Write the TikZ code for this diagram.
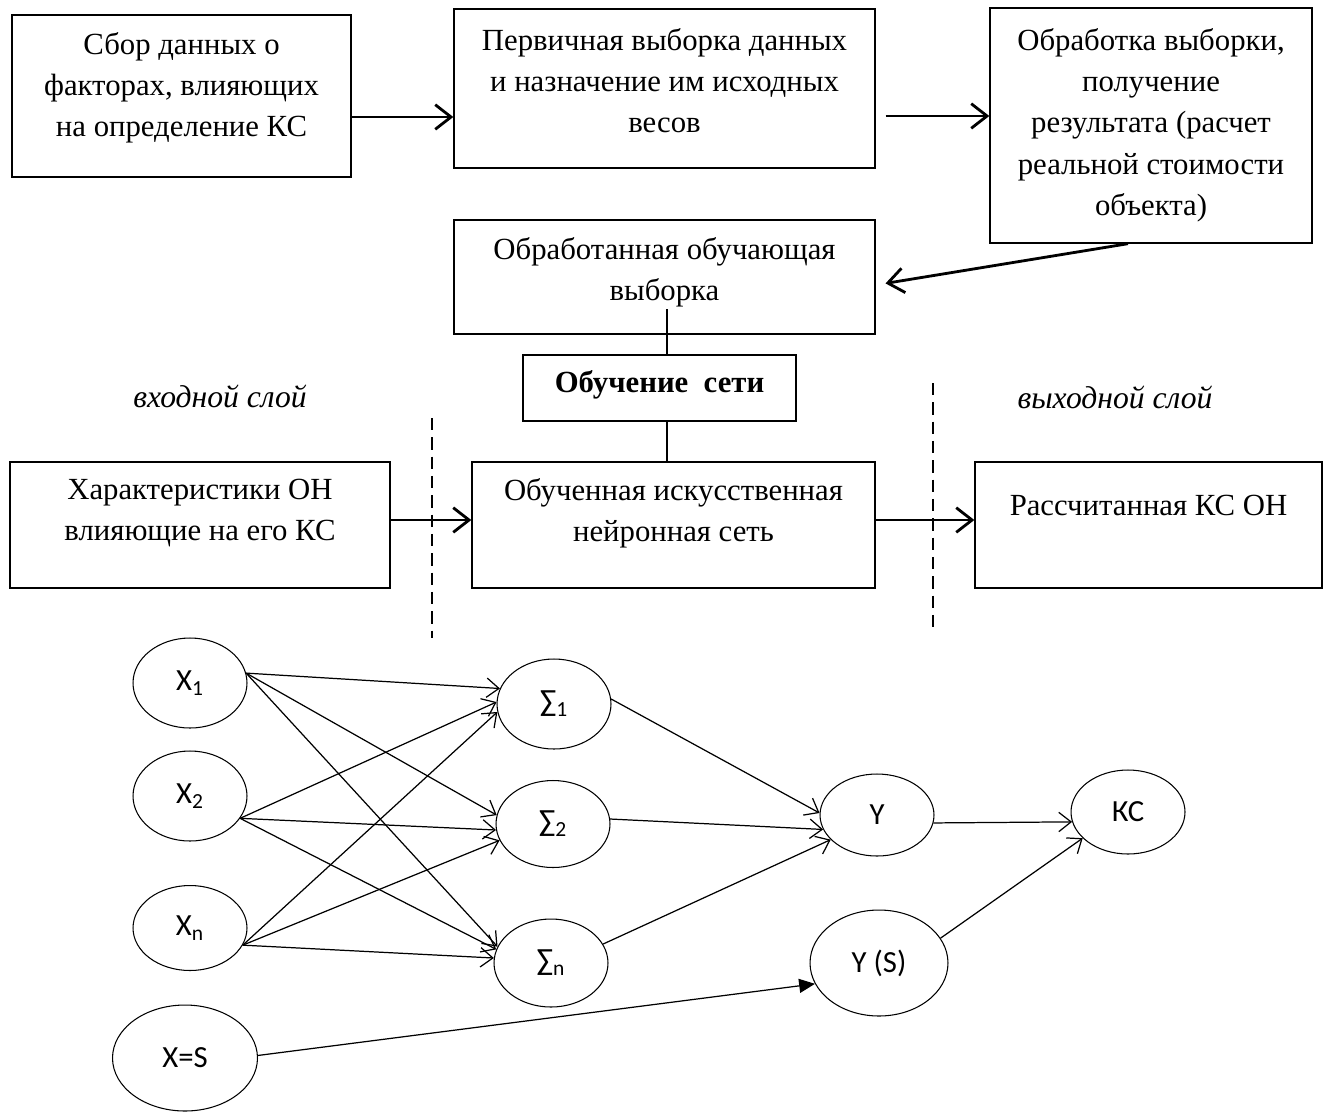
\documentclass[tikz,border=0pt]{standalone}
\usepackage{fontspec}
\setmainfont{Liberation Serif}
\newfontfamily\netfont{Carlito}
\usetikzlibrary{shapes.geometric, arrows.meta}

\tikzstyle{block} = [rectangle, draw=black, line width=0.8pt, align=center, inner sep=0pt, font=\fontsize{17.5}{23.5}\selectfont]
\tikzstyle{neuron} = [ellipse, draw=black, line width=0.6pt, inner sep=0pt, minimum width=2.28cm, minimum height=1.8cm, font=\netfont\fontsize{17.5}{21}\selectfont]
\tikzstyle{arrow} = [line width=1.6pt, -{Straight Barb[length=9pt,width=14pt]}]
\tikzstyle{link} = [line width=1.6pt]
\tikzstyle{synapse} = [line width=0.7pt, -{Straight Barb[length=7pt,width=11pt]}]
\tikzstyle{layer} = [font=\itshape\fontsize{18}{21}\selectfont]
\tikzstyle{border} = [line width=0.6pt, dash pattern=on 7pt off 4pt]

\begin{document}
\begin{tikzpicture}[x=0.02cm, y=-0.02cm]
\useasboundingbox (0,0) rectangle (1331,1113);

% upper part: preparing the sample
\node (collect) [block, minimum width=6.78cm, minimum height=3.24cm, text depth=13pt] at (181.5,96) {Сбор данных о\\факторах, влияющих\\на определение КС};
\node (sample) [block, minimum width=8.42cm, minimum height=3.18cm, text depth=9pt] at (664.5,88.5) {Первичная выборка данных\\и назначение им исходных\\весов};
\node (process) [block, minimum width=6.44cm, minimum height=4.7cm, text depth=4pt] at (1151,125.5) {Обработка выборки,\\получение\\результата (расчет\\реальной стоимости\\объекта)};
\node (trainset) [block, minimum width=8.42cm, minimum height=2.28cm, text depth=9pt] at (664.5,277) {Обработанная обучающая\\выборка};
\node (training) [block, minimum width=5.46cm, minimum height=1.32cm, text depth=7pt, font=\bfseries\fontsize{17.5}{23.5}\selectfont] at (659.5,388) {Обучение\hspace{0.25em} сети};

\draw [arrow] (collect.east |- 0,117) -- (sample.west |- 0,117);
\draw [arrow, shorten <=0.2cm] (sample.east |- 0,116) -- (process.west |- 0,116);
\draw [arrow, shorten >=0.2cm] (process.south -| 1128,0) -- (trainset.east |- 0,285);
\draw [link] (training.north -| 667,0) -- ++(0,-45);
\draw [link] (training.south -| 667,0) -- (0,462 -| 667,0);

% layers
\node (inlabel) [layer] at (220,396) {входной слой};
\node (outlabel) [layer] at (1115,397) {выходной слой};
\coordinate (d1top) at (432,418);
\coordinate (d1bot) at (432,638);
\coordinate (d2top) at (933,383);
\coordinate (d2bot) at (933,628);
\draw [border] (d1top) -- (d1bot);
\draw [border] (d2top) -- (d2bot);

\node (features) [block, minimum width=7.6cm, minimum height=2.52cm, text depth=17pt] at (200,525) {Характеристики ОН\\влияющие на его КС};
\node (net) [block, minimum width=8.06cm, minimum height=2.52cm, text depth=17pt] at (673.5,525) {Обученная искусственная\\нейронная сеть};
\node (result) [block, minimum width=6.94cm, minimum height=2.52cm, text depth=22pt] at (1148.5,525) {Рассчитанная КС ОН};

\draw [arrow] (features.east |- 0,520) -- (net.west |- 0,520);
\draw [arrow] (net.east |- 0,520) -- (result.west |- 0,520);

% network
\node (x1) [neuron] at (190,683) {X\textsubscript{1}};
\node (x2) [neuron] at (190,796) {X\textsubscript{2}};
\node (xn) [neuron, minimum height=1.7cm] at (190,928) {X\textsubscript{n}};
\node (s1) [neuron] at (554,704) {∑\textsubscript{1}};
\node (s2) [neuron, minimum height=1.74cm] at (553,824) {∑\textsubscript{2}};
\node (sn) [neuron, minimum height=1.76cm] at (551,963) {∑\textsubscript{n}};
\node (y) [neuron, minimum height=1.64cm] at (877,815) {Y};
\node (kc) [neuron, minimum height=1.68cm] at (1128,812) {КС};
\node (ys) [neuron, minimum width=2.76cm, minimum height=2.12cm] at (879,963) {Y (S)};
\node (xs) [neuron, minimum width=2.9cm, minimum height=2.12cm] at (185,1058) {X=S};

\foreach \a/\b in {x1.10/s1.164, x1.10/s2.171, x1.10/sn.163,
                   x2.-24/s1.178, x2.-24/s2.186, x2.-24/sn.166,
                   xn.-18/s1.188, xn.-18/s2.197, xn.-18/sn.175}
  \draw [synapse] (\a) -- (\b);
\foreach \a/\b in {s1.5/y.178, s2.5/y.195, sn.20/y.208}
  \draw [synapse] (\a) -- (\b);
\draw [synapse] (y.-8) -- (kc.190);
\draw [synapse] (ys.22) -- (kc.210);
\draw [line width=0.7pt, -{Triangle[length=9pt,width=8pt]}] (xs.2) -- (ys.198);

\end{tikzpicture}
\end{document}
